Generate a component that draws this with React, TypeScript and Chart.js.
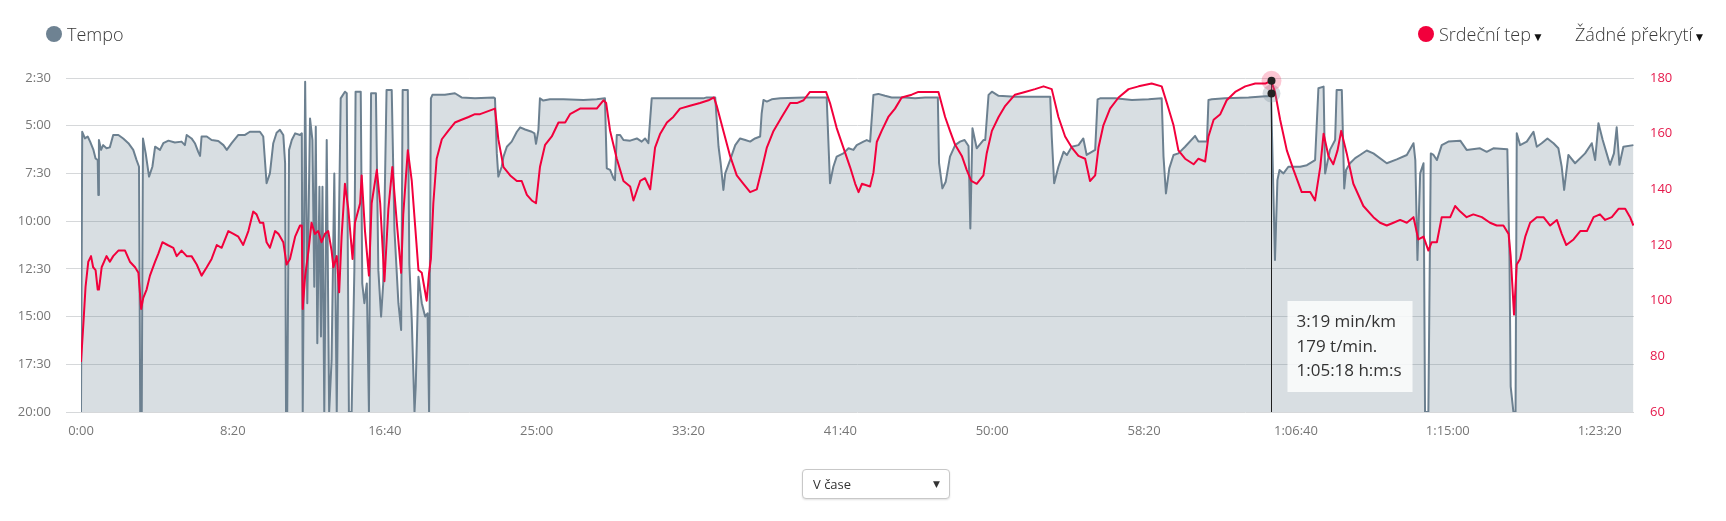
import React, { useEffect, useRef } from 'react';
import { Chart, registerables } from 'chart.js';

Chart.register(...registerables);

// ---- data (seconds since start) ----
const paceTimes = [
  0, 4, 13, 22, 30, 41, 48, 55, 57, 59, 66, 73, 84, 95, 106, 123, 139, 156, 172, 183, 191, 195, 200, 204, 213, 224,
  235, 244, 260, 271, 288, 309, 331, 342, 348, 364, 375, 386, 392, 397, 414, 430, 452, 469, 480, 496, 518, 540, 556,
  589, 600, 611, 622, 633, 644, 655, 666, 672, 675, 679, 685, 694, 705, 721, 727, 730, 738, 745, 754, 762, 768, 773,
  778, 785, 790, 795, 801, 809, 817, 825, 834, 842, 847, 855, 869, 875, 882, 891, 900, 904, 921, 926, 933, 941, 948,
  955, 971, 979, 988, 995, 1006, 1023, 1032, 1045, 1054, 1059, 1076, 1081, 1089, 1098, 1102, 1111, 1122, 1133, 1141,
  1146, 1152, 1157, 1177, 1198, 1231, 1253, 1297, 1358, 1363, 1369, 1374, 1385, 1391, 1402, 1418, 1435, 1446, 1462,
  1484, 1493, 1498, 1506, 1511, 1522, 1544, 1588, 1654, 1698, 1725, 1731, 1742, 1753, 1758, 1764, 1775, 1786, 1808,
  1830, 1846, 1857, 1868, 1879, 1895, 1939, 1994, 2049, 2060, 2088, 2099, 2106, 2115, 2121, 2137, 2154, 2170, 2187,
  2203, 2219, 2236, 2241, 2247, 2258, 2274, 2302, 2379, 2455, 2466, 2477, 2488, 2510, 2527, 2543, 2554, 2576, 2587,
  2598, 2609, 2625, 2647, 2669, 2713, 2746, 2779, 2821, 2825, 2836, 2847, 2861, 2878, 2894, 2909, 2922, 2928, 2935,
  2949, 2971, 2977, 2988, 2999, 3021, 3075, 3130, 3191, 3196, 3204, 3218, 3235, 3246, 3262, 3284, 3300, 3311, 3339,
  3347, 3355, 3405, 3460, 3515, 3558, 3564, 3572, 3583, 3597, 3613, 3635, 3668, 3679, 3707, 3712, 3723, 3767, 3844,
  3899, 3909, 3918, 3924, 3931, 3939, 3946, 3959, 3975, 3992, 4014, 4036, 4063, 4074, 4091, 4096, 4112, 4129, 4134,
  4151, 4159, 4165, 4178, 4195, 4211, 4233, 4255, 4299, 4332, 4365, 4387, 4393, 4400, 4409, 4420, 4425, 4436, 4444,
  4453, 4464, 4480, 4502, 4541, 4562, 4606, 4628, 4650, 4696, 4703, 4707, 4716, 4723, 4727, 4738, 4760, 4782, 4793,
  4809, 4828, 4848, 4864, 4875, 4883, 4897, 4919, 4952, 4974, 4985, 4996, 5010, 5023, 5034, 5047, 5056, 5065, 5078,
  5111,
];
const paceSec = [
  1200, 319, 340, 334, 350, 376, 403, 408, 518, 345, 376, 361, 371, 368, 329, 329, 340, 355, 376, 408, 429, 1200, 1200,
  340, 387, 460, 429, 366, 376, 355, 347, 353, 350, 361, 329, 340, 355, 382, 395, 334, 334, 345, 348, 361, 376, 355,
  329, 329, 319, 319, 334, 481, 450, 355, 322, 313, 329, 418, 1200, 1200, 376, 345, 324, 329, 324, 1200, 162, 858,
  277, 345, 806, 303, 984, 492, 963, 492, 1200, 345, 1200, 1037, 450, 1200, 754, 214, 193, 198, 1200, 1200, 754, 193,
  193, 796, 858, 796, 1200, 198, 198, 754, 900, 796, 188, 188, 628, 858, 942, 188, 188, 733, 911, 1200, 1120, 775, 858,
  900, 890, 1200, 214, 203, 203, 203, 198, 211, 214, 211, 214, 387, 460, 429, 397, 366, 350, 319, 305, 312, 319, 324,
  357, 313, 214, 221, 217, 217, 219, 217, 214, 434, 439, 465, 471, 329, 329, 345, 347, 340, 350, 340, 355, 214, 214,
  214, 214, 214, 211, 211, 366, 418, 502, 450, 408, 361, 340, 345, 350, 340, 334, 261, 219, 224, 217, 214, 211, 211,
  481, 429, 397, 387, 371, 376, 361, 350, 345, 350, 203, 200, 206, 211, 211, 214, 211, 211, 418, 497, 476, 397, 361,
  350, 345, 364, 623, 308, 371, 345, 345, 203, 193, 206, 209, 209, 209, 334, 481, 429, 382, 392, 366, 361, 340, 392,
  376, 217, 214, 214, 219, 217, 214, 397, 513, 434, 392, 387, 366, 332, 350, 350, 219, 217, 214, 211, 207, 207, 199,
  439, 722, 471, 439, 450, 429, 429, 429, 424, 408, 182, 177, 450, 376, 345, 188, 188, 497, 439, 418, 402, 392, 378,
  387, 418, 406, 392, 355, 408, 722, 450, 418, 1200, 1200, 387, 392, 408, 361, 350, 347, 376, 371, 382, 371, 374, 712,
  1120, 1200, 1200, 324, 361, 350, 319, 366, 355, 340, 355, 371, 429, 502, 392, 418, 387, 355, 408, 292, 345, 387, 423,
  387, 305, 423, 366, 361,
];

const hrTimes = [
  0, 8, 15, 24, 33, 40, 48, 55, 59, 68, 84, 95, 106, 123, 145, 161, 178, 189, 198, 205, 216, 227, 244, 255, 268, 285,
  304, 315, 331, 348, 364, 381, 397, 414, 430, 447, 463, 485, 502, 518, 534, 551, 567, 578, 589, 600, 611, 622, 639,
  650, 666, 677, 688, 705, 721, 727, 730, 738, 749, 759, 770, 781, 792, 803, 814, 825, 831, 842, 850, 858, 869, 880,
  894, 902, 919, 924, 935, 948, 957, 974, 985, 999, 1012, 1025, 1039, 1054, 1061, 1076, 1089, 1100, 1111, 1122, 1130,
  1138, 1146, 1152, 1160, 1171, 1188, 1209, 1231, 1253, 1276, 1297, 1314, 1363, 1374, 1391, 1413, 1435, 1451, 1468,
  1484, 1498, 1511, 1528, 1550, 1572, 1594, 1610, 1643, 1676, 1698, 1720, 1729, 1742, 1764, 1786, 1808, 1819, 1841,
  1857, 1874, 1890, 1907, 1929, 1950, 1972, 2005, 2038, 2066, 2084, 2093, 2115, 2137, 2159, 2181, 2203, 2225, 2241,
  2258, 2280, 2307, 2335, 2357, 2379, 2400, 2422, 2453, 2466, 2488, 2510, 2532, 2549, 2560, 2571, 2598, 2609, 2620,
  2636, 2658, 2680, 2702, 2735, 2757, 2790, 2823, 2845, 2861, 2878, 2900, 2916, 2931, 2949, 2971, 2982, 2999, 3021,
  3043, 3075, 3108, 3141, 3169, 3196, 3218, 3240, 3262, 3284, 3306, 3322, 3339, 3350, 3366, 3388, 3416, 3449, 3482,
  3525, 3558, 3575, 3597, 3613, 3635, 3663, 3679, 3701, 3712, 3729, 3751, 3772, 3800, 3833, 3866, 3899, 3918, 3931,
  3948, 3970, 3992, 4019, 4047, 4063, 4080, 4091, 4107, 4123, 4137, 4149, 4167, 4189, 4222, 4255, 4277, 4299, 4321,
  4343, 4365, 4387, 4403, 4420, 4436, 4447, 4464, 4480, 4508, 4524, 4541, 4562, 4584, 4612, 4639, 4661, 4683, 4700,
  4707, 4718, 4727, 4738, 4755, 4771, 4793, 4815, 4837, 4859, 4875, 4890, 4914, 4936, 4958, 4980, 5001, 5018, 5040,
  5062, 5084, 5100, 5111,
];
const hrBpm = [
  78, 92, 105, 114, 116, 112, 111, 104, 104, 112, 116, 114, 116, 118, 118, 114, 112, 110, 97, 101, 104, 109, 114, 117,
  121, 120, 119, 116, 118, 116, 116, 113, 109, 112, 115, 120, 119, 125, 124, 123, 120, 125, 132, 131, 128, 128, 121,
  119, 125, 124, 121, 113, 115, 123, 127, 127, 97, 109, 118, 128, 124, 125, 121, 124, 125, 118, 112, 116, 103, 123, 142,
  133, 115, 128, 135, 145, 125, 109, 135, 147, 135, 107, 133, 148, 129, 110, 131, 154, 143, 127, 111, 110, 105, 100,
  110, 115, 135, 151, 158, 161, 164, 165, 166, 167, 167, 169, 158, 148, 145, 143, 143, 138, 136, 135, 148, 156, 159,
  164, 164, 167, 169, 169, 169, 172, 171, 161, 151, 143, 141, 136, 143, 144, 140, 155, 160, 164, 166, 169, 170, 171,
  172, 173, 170, 161, 152, 145, 142, 139, 140, 147, 155, 161, 166, 171, 171, 172, 175, 175, 175, 171, 162, 155, 148,
  142, 139, 142, 141, 146, 157, 161, 166, 169, 173, 174, 175, 175, 175, 166, 161, 156, 152, 147, 143, 142, 145, 153,
  161, 166, 170, 174, 175, 176, 177, 176, 166, 159, 155, 152, 151, 143, 145, 155, 163, 169, 173, 176, 177, 178, 177,
  171, 163, 154, 151, 149, 151, 150, 159, 165, 167, 172, 175, 177, 178, 178, 179, 175, 165, 154, 147, 139, 139, 136,
  148, 160, 152, 149, 154, 161, 153, 142, 134, 130, 128, 127, 128, 129, 128, 130, 122, 123, 118, 121, 121, 130, 130,
  134, 132, 130, 131, 130, 128, 127, 127, 124, 116, 95, 113, 115, 123, 128, 130, 130, 127, 129, 124, 120, 122, 125,
  125, 130, 131, 129, 130, 133, 133, 130, 127,
];

// axes
const timeTicks = [0, 500, 1000, 1500, 2000, 2500, 3000, 3500, 4000, 4500, 5000];
const timeMax = 5113;
const paceMin = 150;
const paceMax = 1200;
const paceStep = 150;
const hrMin = 60;
const hrMax = 180;
const hrStep = 20;
const hoverTime = 3918;

const PACE_LINE = '#6c8090';
const PACE_FILL = 'rgba(106,126,142,0.26)';
const HR_LINE = '#f2003c';
const HR_TICK = '#e5194b';
const FONT = "'Open Sans', 'DejaVu Sans', sans-serif";

function fmtClock(v: number): string {
  const s = Math.round(v);
  const h = Math.floor(s / 3600);
  const m = Math.floor((s % 3600) / 60);
  const ss = s % 60;
  const p2 = (n: number) => String(n).padStart(2, '0');
  return h > 0 ? `${h}:${p2(m)}:${p2(ss)}` : `${m}:${p2(ss)}`;
}

const hoverPlugin = {
  id: 'hoverMarker',
  afterDatasetsDraw(chart: any) {
    const { ctx, chartArea } = chart;
    const xs = chart.scales.x;
    const ys = chart.scales.y;
    const yh = chart.scales.hr;
    const pi = paceTimes.indexOf(hoverTime);
    const hi = hrTimes.indexOf(hoverTime);
    const pace = paceSec[pi];
    const hr = hrBpm[hi];
    const x = Math.round(xs.getPixelForValue(hoverTime)) + 0.5;
    const yp = ys.getPixelForValue(pace);
    const yr = yh.getPixelForValue(hr);
    ctx.save();
    ctx.strokeStyle = '#1f1f1f';
    ctx.lineWidth = 1;
    ctx.beginPath();
    ctx.moveTo(x, yr);
    ctx.lineTo(x, chartArea.bottom);
    ctx.stroke();
    ctx.fillStyle = 'rgba(120,138,152,0.3)';
    ctx.beginPath();
    ctx.arc(x, yp, 9, 0, Math.PI * 2);
    ctx.fill();
    ctx.fillStyle = 'rgba(242,0,60,0.22)';
    ctx.beginPath();
    ctx.arc(x, yr, 10, 0, Math.PI * 2);
    ctx.fill();
    ctx.fillStyle = '#222';
    ctx.beginPath();
    ctx.arc(x, yp, 4, 0, Math.PI * 2);
    ctx.fill();
    ctx.beginPath();
    ctx.arc(x, yr, 4, 0, Math.PI * 2);
    ctx.fill();
    const bw = 125;
    const bh = 91;
    const bx = x + 16;
    const by = chartArea.bottom - 20 - bh;
    ctx.fillStyle = 'rgba(255,255,255,0.82)';
    ctx.fillRect(bx, by, bw, bh);
    ctx.fillStyle = '#333';
    ctx.font = `17px ${FONT}`;
    ctx.textBaseline = 'alphabetic';
    ctx.textAlign = 'left';
    const lines = [`${fmtClock(pace)} min/km`, `${hr} t/min.`, `${fmtClock(hoverTime)} h:m:s`];
    lines.forEach((t, i) => ctx.fillText(t, bx + 9, by + 26 + i * 24.5));
    ctx.restore();
  },
};

export default function App() {
  const canvasRef = useRef<HTMLCanvasElement | null>(null);

  useEffect(() => {
    if (!canvasRef.current) return;
    const chart = new Chart(canvasRef.current, {
      type: 'line',
      data: {
        datasets: [
          {
            label: 'Srdeční tep',
            data: hrTimes.map((t, i) => ({ x: t, y: hrBpm[i] })),
            yAxisID: 'hr',
            borderColor: HR_LINE,
            borderWidth: 2,
            pointRadius: 0,
            fill: false,
            order: 0,
            borderJoinStyle: 'round',
          },
          {
            label: 'Tempo',
            data: paceTimes.map((t, i) => ({ x: t, y: paceSec[i] })),
            yAxisID: 'y',
            borderColor: PACE_LINE,
            backgroundColor: PACE_FILL,
            borderWidth: 2,
            pointRadius: 0,
            fill: 'start',
            order: 1,
            borderJoinStyle: 'round',
          },
        ],
      },
      options: {
        animation: false,
        responsive: false,
        events: [],
        layout: { padding: { left: 0, right: 0, top: 78, bottom: 69 } },
        plugins: { legend: { display: false }, tooltip: { enabled: false } },
        scales: {
          x: {
            type: 'linear',
            min: 0,
            max: timeMax,
            grid: { display: false, drawTicks: false },
            border: { display: false },
            afterBuildTicks: (s: any) => {
              s.ticks = timeTicks.map((v) => ({ value: v }));
            },
            ticks: {
              autoSkip: false,
              maxRotation: 0,
              padding: 11,
              color: '#777',
              font: { family: FONT, size: 13 },
              callback: (v: any) => fmtClock(Number(v)),
            },
            afterFit: (s: any) => {
              s.height = 40;
            },
          },
          y: {
            type: 'linear',
            position: 'left',
            reverse: true,
            min: paceMin,
            max: paceMax,
            grid: { color: '#d6d8da', lineWidth: 1, drawTicks: true, tickLength: 15 },
            border: { display: false },
            ticks: {
              stepSize: paceStep,
              padding: 15,
              color: '#777',
              font: { family: FONT, size: 13 },
              callback: (v: any) => fmtClock(Number(v)),
            },
            afterFit: (s: any) => {
              s.width = 81;
            },
          },
          hr: {
            type: 'linear',
            position: 'right',
            min: hrMin,
            max: hrMax,
            grid: { display: false, drawTicks: false },
            border: { display: false },
            ticks: {
              stepSize: hrStep,
              padding: 16,
              color: HR_TICK,
              font: { family: FONT, size: 13 },
            },
            afterFit: (s: any) => {
              s.width = 92;
            },
          },
        },
      } as any,
      plugins: [hoverPlugin],
    });
    return () => chart.destroy();
  }, []);

  const legendText: React.CSSProperties = {
    position: 'absolute',
    top: 22,
    fontFamily: FONT,
    fontWeight: 300,
    fontSize: 18,
    lineHeight: '24px',
    color: '#3a3a3a',
    whiteSpace: 'nowrap',
  };
  const dot = (color: string, cx: number): React.CSSProperties => ({
    position: 'absolute',
    left: cx - 8,
    top: 26,
    width: 16,
    height: 16,
    borderRadius: '50%',
    background: color,
  });
  const caret: React.CSSProperties = { fontSize: 12, color: '#111', marginLeft: 1, fontFamily: "'DejaVu Sans', sans-serif" };

  return (
    <div style={{ position: 'absolute', left: 0, top: 0, width: 1726, height: 521, background: '#fff', overflow: 'hidden' }}>
      <canvas ref={canvasRef} width={1726} height={521} style={{ position: 'absolute', left: 0, top: 0 }} />
      <div style={dot('#6e8292', 54)} />
      <div style={{ ...legendText, left: 67 }}>Tempo</div>
      <div style={dot('#f2003c', 1426)} />
      <div style={{ ...legendText, left: 1439 }}>
        Srdeční tep<span style={caret}>▼</span>
      </div>
      <div style={{ ...legendText, left: 1575 }}>
        Žádné překrytí<span style={caret}>▼</span>
      </div>
      <div
        style={{
          position: 'absolute',
          left: 802,
          top: 469,
          width: 148,
          height: 30,
          boxSizing: 'border-box',
          border: '1px solid #c8c8c8',
          borderRadius: 4,
          boxShadow: '0 1px 2px rgba(0,0,0,0.12)',
          fontFamily: FONT,
          fontSize: 13,
          color: '#333',
          lineHeight: '28px',
          paddingLeft: 10,
          background: '#fff',
        }}
      >
        V čase
        <span style={{ position: 'absolute', right: 9, top: 0, fontSize: 9, color: '#333', fontFamily: "'DejaVu Sans', sans-serif" }}>▼</span>
      </div>
    </div>
  );
}
